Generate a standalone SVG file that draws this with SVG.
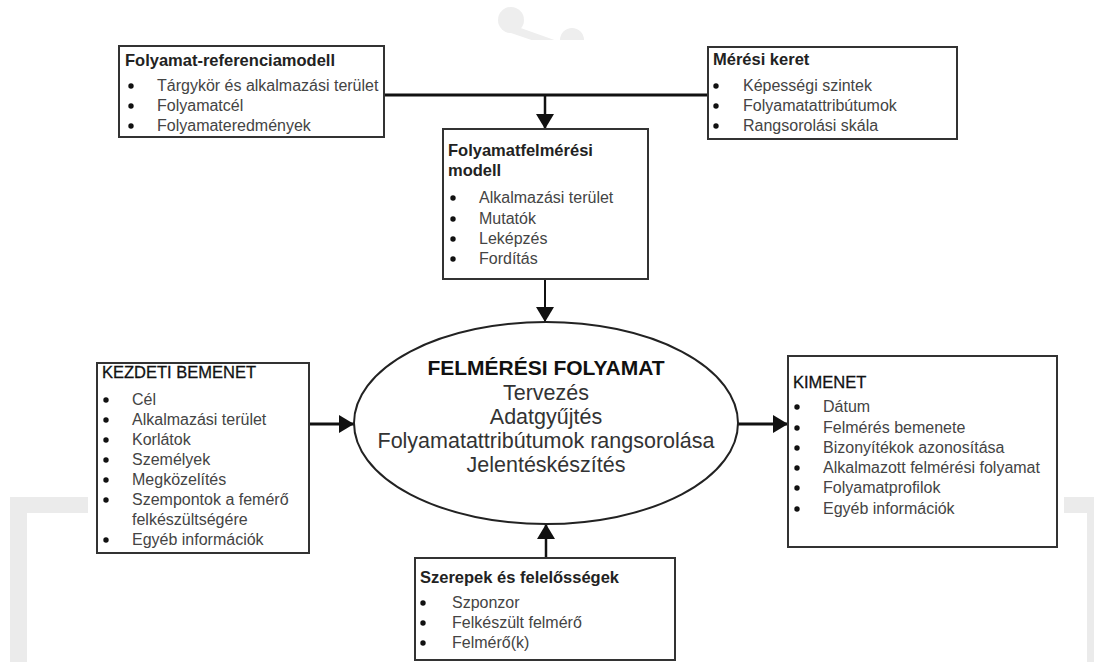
<svg xmlns="http://www.w3.org/2000/svg" width="1094" height="662" viewBox="0 0 1094 662">
<defs>
<style>
.box{fill:#fff;stroke:#333;stroke-width:2}
.t{font-family:"Liberation Sans",Arial,sans-serif;font-size:16px;fill:#444}
.h{font-family:"Liberation Sans",Arial,sans-serif;font-size:16.5px;font-weight:bold;fill:#222}
.hn{font-family:"Liberation Sans",Arial,sans-serif;font-size:16.5px;fill:#111;stroke:#111;stroke-width:0.3}
.e{font-family:"Liberation Sans",Arial,sans-serif;font-size:21.5px;fill:#333;text-anchor:middle}
.eh{font-family:"Liberation Sans",Arial,sans-serif;font-size:21px;font-weight:bold;fill:#111;text-anchor:middle}
.b{fill:#111}
.ln{stroke:#111;fill:none}
.wm{fill:#ebebeb}
</style>
<marker id="ah" viewBox="0 0 15 18" refX="15" refY="9" markerWidth="15" markerHeight="18" markerUnits="userSpaceOnUse" orient="auto">
<path d="M0,0 L15,9 L0,18 Z" fill="#111"/>
</marker>
<clipPath id="topclip"><rect x="0" y="0" width="1094" height="40"/></clipPath>
</defs>
<g id="watermark">
<rect class="wm" x="10" y="497" width="78" height="16"/>
<rect class="wm" x="10" y="497" width="17" height="165"/>
<rect class="wm" x="1064" y="497" width="30" height="16"/>
<rect class="wm" x="1087" y="497" width="7" height="165"/>
<g clip-path="url(#topclip)" fill="#eeeeee">
<circle cx="511" cy="20" r="13"/>
<circle cx="572" cy="40" r="12"/>
<path d="M515,26 L560,42 L555,48 L508,32 Z"/>
</g>
</g>
<g id="connectors">
<line class="ln" x1="384" y1="95" x2="708" y2="95" stroke-width="3"/>
<line class="ln" x1="545" y1="95" x2="545" y2="129" stroke-width="2.5" marker-end="url(#ah)"/>
<line class="ln" x1="545" y1="280" x2="545" y2="322" stroke-width="2" marker-end="url(#ah)"/>
<line class="ln" x1="546" y1="558" x2="546" y2="524" stroke-width="2.5" marker-end="url(#ah)"/>
<line class="ln" x1="310" y1="424" x2="354" y2="424" stroke-width="3" marker-end="url(#ah)"/>
<line class="ln" x1="738" y1="424" x2="788" y2="424" stroke-width="3" marker-end="url(#ah)"/>
</g>
<g id="ref-model">
<rect class="box" x="119" y="46" width="265" height="91"/>
<text class="h" x="125" y="66">Folyamat-referenciamodell</text>
<circle class="b" cx="131" cy="86" r="2.7"/><text class="t" x="157" y="91">Tárgykör és alkalmazási terület</text>
<circle class="b" cx="131" cy="106" r="2.7"/><text class="t" x="157" y="111">Folyamatcél</text>
<circle class="b" cx="131" cy="126" r="2.7"/><text class="t" x="157" y="131">Folyamateredmények</text>
</g>
<g id="measure-frame">
<rect class="box" x="708" y="47" width="249" height="92"/>
<text class="h" x="713" y="65">Mérési keret</text>
<circle class="b" cx="716" cy="86" r="2.7"/><text class="t" x="743" y="91">Képességi szintek</text>
<circle class="b" cx="716" cy="106" r="2.7"/><text class="t" x="743" y="111">Folyamatattribútumok</text>
<circle class="b" cx="716" cy="126" r="2.7"/><text class="t" x="743" y="131">Rangsorolási skála</text>
</g>
<g id="assessment-model">
<rect class="box" x="443" y="129" width="205" height="150"/>
<text class="h" x="448" y="156">Folyamatfelmérési</text>
<text class="h" x="448" y="176">modell</text>
<circle class="b" cx="453" cy="198" r="2.7"/><text class="t" x="479" y="203">Alkalmazási terület</text>
<circle class="b" cx="453" cy="219" r="2.7"/><text class="t" x="479" y="224">Mutatók</text>
<circle class="b" cx="453" cy="239" r="2.7"/><text class="t" x="479" y="244">Leképzés</text>
<circle class="b" cx="453" cy="259" r="2.7"/><text class="t" x="479" y="264">Fordítás</text>
</g>
<g id="process">
<ellipse cx="546" cy="423" rx="192" ry="101" fill="#fff" stroke="#222" stroke-width="2"/>
<text class="eh" x="546" y="375">FELMÉRÉSI FOLYAMAT</text>
<text class="e" x="546" y="400">Tervezés</text>
<text class="e" x="546" y="424">Adatgyűjtés</text>
<text class="e" x="546" y="448">Folyamatattribútumok rangsorolása</text>
<text class="e" x="546" y="472">Jelentéskészítés</text>
</g>
<g id="input">
<rect class="box" x="97" y="363" width="212" height="190"/>
<text class="hn" x="102" y="378">KEZDETI BEMENET</text>
<circle class="b" cx="106" cy="400" r="2.7"/><text class="t" x="132" y="405">Cél</text>
<circle class="b" cx="106" cy="420" r="2.7"/><text class="t" x="132" y="425">Alkalmazási terület</text>
<circle class="b" cx="106" cy="440" r="2.7"/><text class="t" x="132" y="445">Korlátok</text>
<circle class="b" cx="106" cy="460" r="2.7"/><text class="t" x="132" y="465">Személyek</text>
<circle class="b" cx="106" cy="480" r="2.7"/><text class="t" x="132" y="485">Megközelítés</text>
<circle class="b" cx="106" cy="500" r="2.7"/><text class="t" x="132" y="505">Szempontok a femérő</text>
<text class="t" x="132" y="525">felkészültségére</text>
<circle class="b" cx="106" cy="540" r="2.7"/><text class="t" x="132" y="545">Egyéb információk</text>
</g>
<g id="output">
<rect class="box" x="788" y="356" width="269" height="191"/>
<text class="hn" x="793" y="388">KIMENET</text>
<circle class="b" cx="797" cy="407" r="2.7"/><text class="t" x="823" y="412">Dátum</text>
<circle class="b" cx="797" cy="428" r="2.7"/><text class="t" x="823" y="433">Felmérés bemenete</text>
<circle class="b" cx="797" cy="448" r="2.7"/><text class="t" x="823" y="453">Bizonyítékok azonosítása</text>
<circle class="b" cx="797" cy="468" r="2.7"/><text class="t" x="823" y="473">Alkalmazott felmérési folyamat</text>
<circle class="b" cx="797" cy="488" r="2.7"/><text class="t" x="823" y="493">Folyamatprofilok</text>
<circle class="b" cx="797" cy="509" r="2.7"/><text class="t" x="823" y="514">Egyéb információk</text>
</g>
<g id="roles">
<rect class="box" x="415" y="558" width="260" height="102"/>
<text class="h" x="420" y="583">Szerepek és felelősségek</text>
<circle class="b" cx="423" cy="603" r="2.7"/><text class="t" x="452" y="608">Szponzor</text>
<circle class="b" cx="423" cy="623" r="2.7"/><text class="t" x="452" y="628">Felkészült felmérő</text>
<circle class="b" cx="423" cy="643" r="2.7"/><text class="t" x="452" y="648">Felmérő(k)</text>
</g>
</svg>
